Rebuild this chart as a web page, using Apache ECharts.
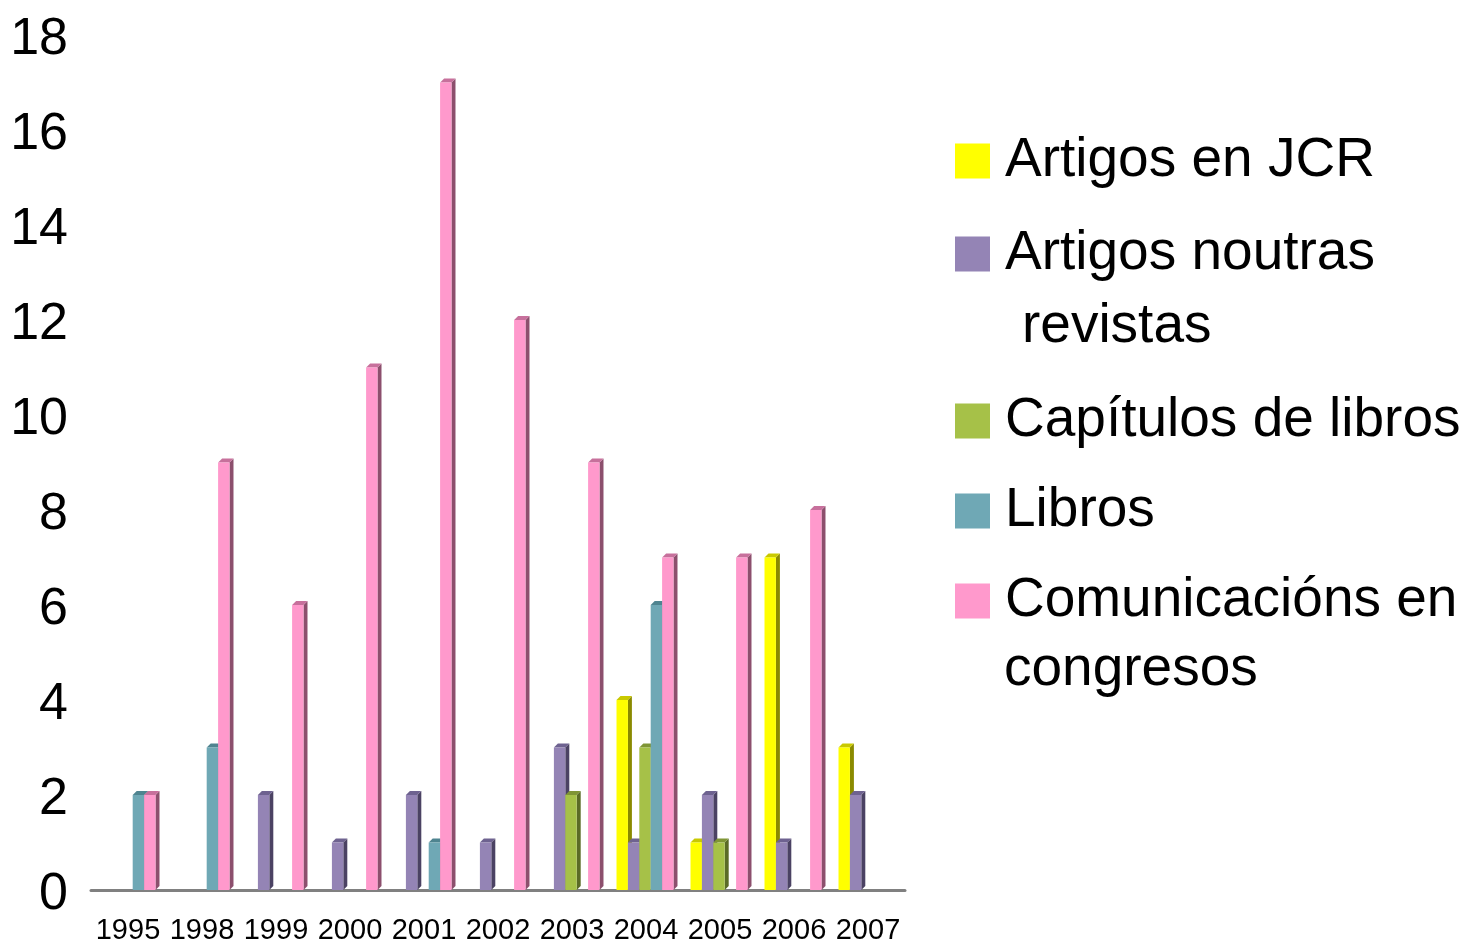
<!DOCTYPE html>
<html>
<head>
<meta charset="utf-8">
<script src="https://cdn.jsdelivr.net/npm/echarts@6/dist/echarts.min.js"></script>
<style>
html,body{margin:0;padding:0;background:#fff;}
#chart{width:1478px;height:946px;}
</style>
</head>
<body>
<div id="chart"></div>
<script>
const categories = ['1995','1998','1999','2000','2001','2002','2003','2004','2005','2006','2007'];
const seriesNames = ['Artigos en JCR','Artigos noutras revistas','Capítulos de libros','Libros','Comunicacións en congresos'];
const artigosJCR     = [0,0,0,0,0,0,0,4,1,7,3];
const artigosNoutras = [0,0,2,1,2,1,3,1,2,1,2];
const capitulos      = [0,0,0,0,0,0,2,3,1,0,0];
const libros         = [2,3,0,0,1,0,0,6,0,0,0];
const comunicacions  = [2,9,6,11,17,12,9,7,7,8,0];
const yTicks = [0,2,4,6,8,10,12,14,16,18];

const seriesValues = [artigosJCR, artigosNoutras, capitulos, libros, comunicacions];
const frontColors = ['#FFFF00','#9484B5','#A6C148','#6FA8B5','#FF99CC'];
const sideColors  = ['#8A8A00','#4B4263','#5B6B26','#3C6069','#8C4F6D'];
const topColors   = ['#C9C900','#6E6290','#7F9535','#4F8490','#C7709C'];

const FONT = 'Liberation Sans';

const chart = echarts.init(document.getElementById('chart'), null, {renderer:'canvas'});

function makeRender(si){
  return function(params, api){
    const v = api.value(1);
    if (!v) return null;
    const idx = api.value(0);
    const top = api.coord([idx, v]);
    const base = api.coord([idx, 0]);
    const band = api.size([1,0])[0];
    const slot = band * 0.154;
    const cx = top[0] - 1 + (si - 2) * slot;
    const x0 = cx - slot/2, x1 = cx + slot/2;
    const yT = top[1], yB = base[1];
    const d = 4;
    return {
      type:'group',
      children:[
        {type:'polygon', shape:{points:[[x1,yT],[x1+d,yT-d],[x1+d,yB-d],[x1,yB]]}, style:{fill:sideColors[si]}},
        {type:'polygon', shape:{points:[[x0,yT],[x0+d,yT-d],[x1+d,yT-d],[x1,yT]]}, style:{fill:topColors[si]}},
        {type:'rect', shape:{x:x0, y:yT, width:x1-x0, height:yB-yT}, style:{fill:frontColors[si]}}
      ]
    };
  };
}

const series = seriesValues.map((vals, si) => ({
  name: seriesNames[si],
  type: 'custom',
  renderItem: makeRender(si),
  encode: {x:0, y:1},
  itemStyle: {color: frontColors[si]},
  data: vals.map((v,i) => [i, v]),
  animation: false
}));

const legendFirstLines = ['Artigos en JCR','Artigos noutras','Capítulos de libros','Libros','Comunicacións en'];
const legendCenters = [161, 254, 421, 511, 601];
const legends = seriesNames.map((n, i) => ({
  data:[{name:n, icon:'rect'}],
  left: 955,
  top: legendCenters[i] - 35,
  padding: 0,
  orient:'vertical',
  itemWidth: 35,
  itemHeight: 35,
  selectedMode: false,
  formatter: () => legendFirstLines[i],
  textStyle: {fontFamily: FONT, fontSize: 55, color:'#000', lineHeight: 64, padding:[6,0,0,10]}
}));

chart.setOption({
  backgroundColor:'#fff',
  animation:false,
  grid:{left:91, right:573, top:35, bottom:56, containLabel:false, outerBoundsMode:'none'},
  xAxis:{
    type:'category',
    data: categories,
    axisLine:{show:true, lineStyle:{color:'#808080', width:3}},
    axisTick:{show:false},
    axisLabel:{fontFamily:FONT, fontSize:29, color:'#000', margin:26, interval:0}
  },
  yAxis:{
    type:'value',
    min: yTicks[0],
    max: yTicks[yTicks.length-1],
    interval: 2,
    axisLine:{show:false},
    axisTick:{show:false},
    splitLine:{show:false},
    axisLabel:{fontFamily:FONT, fontSize:52, color:'#000', margin:23, verticalAlign:'top', lineHeight:10}
  },
  legend: legends,
  graphic:[
    {type:'text', left:1022, top:327-32, style:{text:'revistas', fontFamily:FONT, fontSize:55, fill:'#000', lineHeight:64}},
    {type:'text', left:1004, top:670-32, style:{text:'congresos', fontFamily:FONT, fontSize:55, fill:'#000', lineHeight:64}}
  ],
  series: series
});
</script>
</body>
</html>
